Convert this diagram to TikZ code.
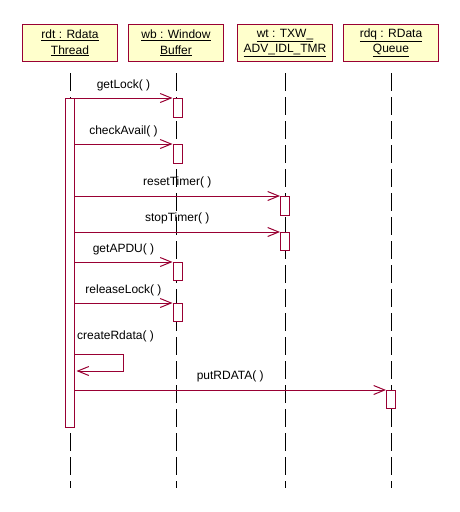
\documentclass[tikz,border=0pt]{standalone}
\usepackage{fontspec}
\setmainfont{Liberation Sans}
\usetikzlibrary{arrows.meta}
\definecolor{umlred}{HTML}{990033}
\definecolor{umlyellow}{HTML}{FFFFCC}
\begin{document}
\begin{tikzpicture}[x=1pt,y=-1pt,
 obj/.style={draw=umlred,fill=umlyellow,line width=1pt,minimum width=95pt,minimum height=37pt,inner sep=0pt,align=center,font=\fontsize{12}{15.5}\selectfont,anchor=north west},
 act/.style={draw=umlred,fill=white,line width=1pt,minimum width=9pt,inner sep=0pt,anchor=north},
 life/.style={line width=1pt,dash pattern=on 18pt off 6pt},
 msg/.style={draw=umlred,line width=1pt,-{Straight Barb[length=11pt,width=9pt,line width=1pt]}},
 lbl/.style={font=\fontsize{12}{14}\selectfont,inner sep=0pt}]
\useasboundingbox (0,0) rectangle (460,512);
% objects
\node[obj] (rdt) at (22,24) {\underline{rdt : Rdata}\\\underline{Thread}};
\node[obj] (wb) at (128,24) {\underline{wb : Window}\\\underline{Buffer}};
\node[obj] (wt) at (237,24) {\underline{wt : TXW\_}\\\underline{ADV\_IDL\_TMR}};
\node[obj] (rdq) at (343,24) {\underline{rdq : RData}\\\underline{Queue}};
% lifelines
\coordinate (lend) at (0,488);
\coordinate (lstart) at (0,73);
\draw[life] (rdt.south |- lstart) -- (rdt.south |- lend);
\draw[life] (wb.south |- lstart) -- (wb.south |- lend);
\draw[life] (wt.south |- lstart) -- (wt.south |- lend);
\draw[life] (rdq.south |- lstart) -- (rdq.south |- lend);
% activations
\node[act,minimum height=329pt] (a0) at ([xshift=-0.5pt]rdt.south |- 0,98) {};
\node[act,minimum height=19pt] (w1) at ([xshift=1.5pt]wb.south |- 0,98) {};
\node[act,minimum height=19pt] (w2) at ([xshift=1.5pt]wb.south |- 0,144) {};
\node[act,minimum height=18pt] (w3) at ([xshift=1.5pt]wb.south |- 0,262) {};
\node[act,minimum height=18pt] (w4) at ([xshift=1.5pt]wb.south |- 0,303) {};
\node[act,minimum height=19pt] (t1) at (wt.south |- 0,196) {};
\node[act,minimum height=18pt] (t2) at (wt.south |- 0,232) {};
\node[act,minimum height=18pt] (q1) at (rdq.south |- 0,390) {};
% messages
\draw[msg] (a0.east |- w1.north) -- (w1.north west) node[lbl,midway,yshift=13pt] {getLock( )};
\draw[msg] (a0.east |- w2.north) -- (w2.north west) node[lbl,midway,yshift=13pt] {checkAvail( )};
\draw[msg] (a0.east |- t1.north) -- (t1.north west) node[lbl,midway,yshift=14pt] {resetTimer( )};
\draw[msg] (a0.east |- t2.north) -- (t2.north west) node[lbl,midway,yshift=14pt] {stopTimer( )};
\draw[msg] (a0.east |- w3.north) -- (w3.north west) node[lbl,midway,yshift=13pt] {getAPDU( )};
\draw[msg] (a0.east |- w4.north) -- (w4.north west) node[lbl,midway,yshift=13pt] {releaseLock( )};
\coordinate (s1) at (a0.east |- 0,354);
\coordinate (s2) at ([xshift=2pt]a0.east |- 0,371);
\draw[msg] (s1) -- ++(49,0) |- (s2);
\node[lbl,anchor=west] (crl) at (77,336) {createRdata( )};
\draw[msg] (a0.east |- q1.north) -- (q1.north west) node[lbl,midway,yshift=14pt] {putRDATA( )};
\end{tikzpicture}
\end{document}
